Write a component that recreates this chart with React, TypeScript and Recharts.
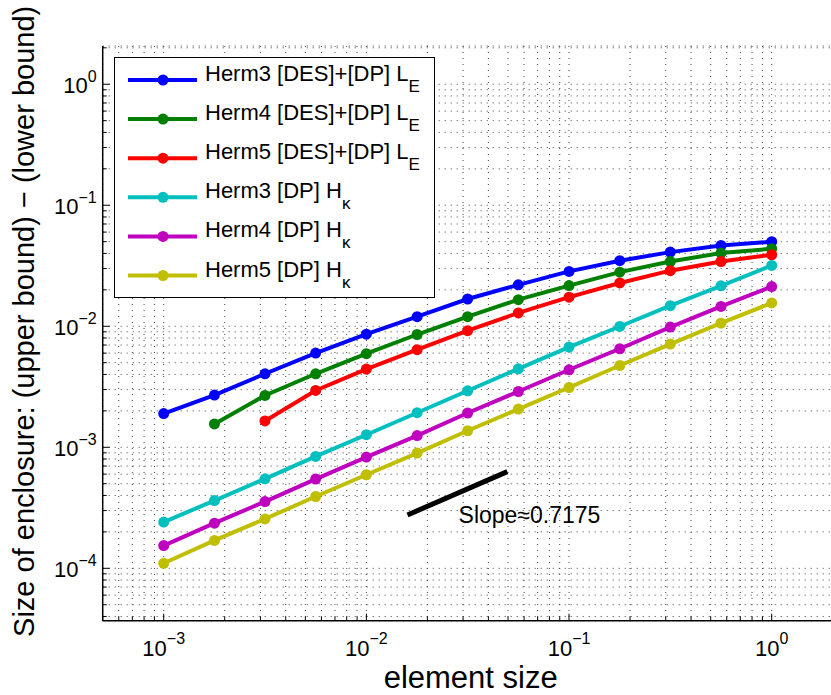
import { LineChart, Line, XAxis, YAxis, CartesianGrid, Legend, ReferenceLine, ReferenceDot } from 'recharts'

const FONT = '"Liberation Sans", Arial, Helvetica, sans-serif'

// element sizes (quarter decades from 1e-3 to 1)
const elementSize = [0.001, 0.00178, 0.00316, 0.00562, 0.01, 0.0178, 0.0316, 0.0562, 0.1, 0.178, 0.316, 0.562, 1]

const herm3LE = [1.9e-3, 2.7e-3, 4.05e-3, 6.0e-3, 8.6e-3, 1.2e-2, 1.68e-2, 2.2e-2, 2.84e-2, 3.48e-2, 4.1e-2, 4.65e-2, 5.0e-2]
const herm4LE = [null, 1.56e-3, 2.68e-3, 4.05e-3, 5.93e-3, 8.55e-3, 1.2e-2, 1.66e-2, 2.17e-2, 2.8e-2, 3.43e-2, 4.03e-2, 4.37e-2]
const herm5LE = [null, null, 1.65e-3, 2.95e-3, 4.43e-3, 6.4e-3, 9.2e-3, 1.29e-2, 1.74e-2, 2.28e-2, 2.88e-2, 3.43e-2, 3.9e-2]
const herm3HK = [2.41e-4, 3.63e-4, 5.49e-4, 8.4e-4, 1.27e-3, 1.93e-3, 2.93e-3, 4.45e-3, 6.73e-3, 9.96e-3, 1.48e-2, 2.16e-2, 3.18e-2]
const herm4HK = [1.54e-4, 2.36e-4, 3.56e-4, 5.46e-4, 8.3e-4, 1.25e-3, 1.92e-3, 2.89e-3, 4.37e-3, 6.52e-3, 9.84e-3, 1.46e-2, 2.13e-2]
const herm5HK = [1.1e-4, 1.7e-4, 2.56e-4, 3.92e-4, 5.93e-4, 8.95e-4, 1.37e-3, 2.07e-3, 3.12e-3, 4.74e-3, 7.13e-3, 1.06e-2, 1.56e-2]

const seriesKeys = ['h3le', 'h4le', 'h5le', 'h3hk', 'h4hk', 'h5hk']
const seriesValues = [herm3LE, herm4LE, herm5LE, herm3HK, herm4HK, herm5HK]
const seriesColors = ['#0000ff', '#008000', '#ff0000', '#00bfbf', '#bf00bf', '#bfbf00']
const seriesLabels = ['Herm3 [DES]+[DP] L', 'Herm4 [DES]+[DP] L', 'Herm5 [DES]+[DP] L', 'Herm3 [DP] H', 'Herm4 [DP] H', 'Herm5 [DP] H']
const seriesSubs = ['E', 'E', 'E', 'κ', 'κ', 'κ']

const xTicks = [
  5e-4, 6e-4, 7e-4, 8e-4, 9e-4,
  1e-3, 2e-3, 3e-3, 4e-3, 5e-3, 6e-3, 7e-3, 8e-3, 9e-3,
  1e-2, 2e-2, 3e-2, 4e-2, 5e-2, 6e-2, 7e-2, 8e-2, 9e-2,
  0.1, 0.2, 0.3, 0.4, 0.5, 0.6, 0.7, 0.8, 0.9,
  1, 2,
]
const yTicks = [
  4e-5, 5e-5, 6e-5, 7e-5, 8e-5, 9e-5,
  1e-4, 2e-4, 3e-4, 4e-4, 5e-4, 6e-4, 7e-4, 8e-4, 9e-4,
  1e-3, 2e-3, 3e-3, 4e-3, 5e-3, 6e-3, 7e-3, 8e-3, 9e-3,
  1e-2, 2e-2, 3e-2, 4e-2, 5e-2, 6e-2, 7e-2, 8e-2, 9e-2,
  0.1, 0.2, 0.3, 0.4, 0.5, 0.6, 0.7, 0.8, 0.9,
  1, 2,
]

// reference slope segment and its label
const slopeStart = { x: 0.01596, y: 2.76e-4 }
const slopeEnd = { x: 0.0496, y: 6.29e-4 }
const slopeLabelAt = { x: 0.0285, y: 2.35e-4 }
const slopeText = 'Slope≈0.7175'

const data = elementSize.map((h, i) => {
  const row: any = { h }
  seriesKeys.forEach((k, j) => { row[k] = seriesValues[j][i] })
  return row
})

const isDecade = (v: number) => Math.abs(Math.log10(v) - Math.round(Math.log10(v))) < 1e-9
const expText = (v: number) => {
  const e = Math.round(Math.log10(v))
  return e < 0 ? '−' + -e : String(e)
}

function TickMark({ x, y, payload, side }: any) {
  const v = payload.value
  const major = isDecade(v)
  const len = major ? 7 : 4
  let line
  if (side === 'bottom') line = <line x1={x} x2={x} y1={y} y2={y - len} stroke="#000" />
  else if (side === 'top') line = <line x1={x} x2={x} y1={y} y2={y + len} stroke="#000" />
  else if (side === 'left') line = <line x1={x} x2={x + len} y1={y} y2={y} stroke="#000" />
  else line = <line x1={x} x2={x - len} y1={y} y2={y} stroke="#000" />
  let label = null
  if (major && side === 'bottom') {
    label = (
      <text x={x} y={y + 35} textAnchor="middle" fontSize={22} fontFamily={FONT} fill="#000">
        10<tspan dy={-12} fontSize={16}>{expText(v)}</tspan>
      </text>
    )
  }
  if (major && side === 'left') {
    label = (
      <text x={x - 6} y={y + 8.5} textAnchor="end" fontSize={22} fontFamily={FONT} fill="#000">
        10<tspan dy={-11} fontSize={16}>{expText(v)}</tspan>
      </text>
    )
  }
  return <g>{line}{label}</g>
}

function LegendBox() {
  return (
    <svg width={321} height={241} style={{ display: 'block' }}>
      <rect x={0.5} y={0.5} width={320} height={240} fill="#fff" stroke="#000" />
      {seriesLabels.map((lab, i) => {
        const cy = 23 + i * 39.1
        return (
          <g key={i}>
            <line x1={14} x2={83} y1={cy} y2={cy} stroke={seriesColors[i]} strokeWidth={4} />
            <circle cx={49} cy={cy} r={5.5} fill={seriesColors[i]} />
            <text x={91} y={cy + 1} fontSize={22} fontFamily={FONT} fill="#000">
              {lab}<tspan dy={11} fontSize={17}>{seriesSubs[i]}</tspan>
            </text>
          </g>
        )
      })}
    </svg>
  )
}

export default function App() {
  return (
    <div style={{ position: 'absolute', left: 0, top: 0, width: 831, height: 695, overflow: 'hidden', background: '#fff' }}>
      <LineChart width={834} height={695} data={data} margin={{ top: 46, right: 1.3, bottom: 0, left: 0 }}>
        <CartesianGrid stroke="#444" strokeDasharray="1 5" strokeWidth={1} />
        <XAxis
          dataKey="h" type="number" scale="log" domain={[5e-4, 2]} allowDataOverflow
          ticks={xTicks} interval={0} height={74.3} tickSize={0} tickMargin={0} tickLine={false}
          axisLine={{ stroke: '#000', strokeWidth: 1.5 }}
          tick={(p: any) => <TickMark {...p} side="bottom" />}
          label={(p: any) => {
            const vb = p.viewBox
            return (
              <text x={vb.x + vb.width / 2 + 3} y={688} textAnchor="middle" fontSize={31} fontFamily={FONT} fill="#000">
                element size
              </text>
            )
          }}
        />
        <XAxis
          xAxisId="top" orientation="top" type="number" scale="log" domain={[5e-4, 2]} allowDataOverflow
          ticks={xTicks} interval={0} height={0} tickSize={0} tickMargin={0} tickLine={false}
          axisLine={{ stroke: '#000', strokeWidth: 1.5 }}
          tick={(p: any) => <TickMark {...p} side="top" />}
        />
        <YAxis
          type="number" scale="log" domain={[3.69e-5, 2.07]} allowDataOverflow
          ticks={yTicks} interval={0} width={102.7} tickSize={0} tickMargin={0} tickLine={false}
          axisLine={{ stroke: '#000', strokeWidth: 1.5 }}
          tick={(p: any) => <TickMark {...p} side="left" />}
          label={(p: any) => {
            const vb = p.viewBox
            const cy = vb.y + vb.height / 2 - 12
            return (
              <text x={34} y={cy} transform={`rotate(-90, 34, ${cy})`} textAnchor="middle" fontSize={29} fontFamily={FONT} fill="#000">
                Size of enclosure: (upper bound) − (lower bound)
              </text>
            )
          }}
        />
        <YAxis
          yAxisId="right" orientation="right" type="number" scale="log" domain={[3.69e-5, 2.07]} allowDataOverflow
          ticks={yTicks} interval={0} width={0} tickSize={0} tickMargin={0} tickLine={false}
          axisLine={{ stroke: '#000', strokeWidth: 1.5 }}
          tick={(p: any) => <TickMark {...p} side="right" />}
        />
        {seriesKeys.map((k, i) => (
          <Line
            key={k}
            dataKey={k}
            type="linear"
            stroke={seriesColors[i]}
            strokeWidth={4}
            dot={{ r: 5.5, fill: seriesColors[i], stroke: seriesColors[i], strokeWidth: 0 }}
            activeDot={false}
            isAnimationActive={false}
          />
        ))}
        <ReferenceLine segment={[slopeStart, slopeEnd]} stroke="#000" strokeWidth={5} />
        <ReferenceDot
          x={slopeLabelAt.x}
          y={slopeLabelAt.y}
          r={0}
          shape={(p: any) => (
            <text x={p.cx} y={p.cy} fontSize={23} fontFamily={FONT} fill="#000">{slopeText}</text>
          )}
        />
        <Legend
          layout="vertical" align="center" verticalAlign="middle"
          wrapperStyle={{ left: 114, top: 57, width: 321, height: 241 }}
          content={() => <LegendBox />}
        />
      </LineChart>
    </div>
  )
}
